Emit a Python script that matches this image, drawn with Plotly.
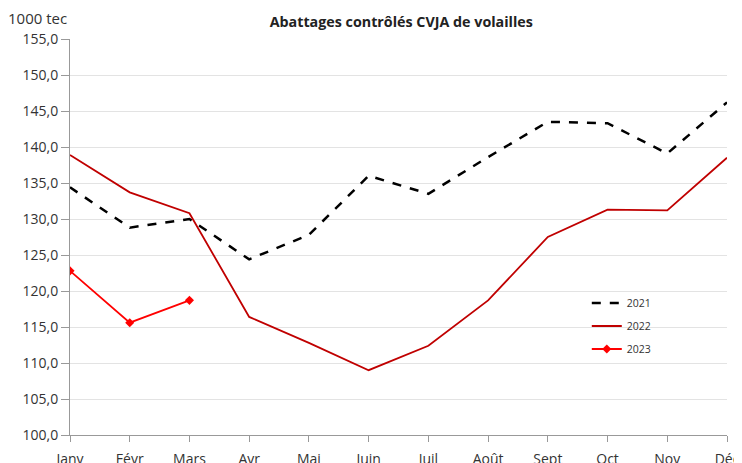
import plotly.graph_objects as go

months = ["Janv", "Févr", "Mars", "Avr", "Mai", "Juin", "Juil", "Août", "Sept", "Oct", "Nov", "Déc"]
y2021 = [134.4, 128.8, 130.0, 124.4, 127.8, 136.0, 133.5, 138.6, 143.5, 143.3, 139.1, 146.2]
y2022 = [138.9, 133.7, 130.8, 116.4, 112.8, 109.0, 112.4, 118.7, 127.5, 131.3, 131.2, 138.5]
y2023 = [122.8, 115.6, 118.7]
yticks = [100, 105, 110, 115, 120, 125, 130, 135, 140, 145, 150, 155]

FONT = "Open Sans"

fig = go.Figure()
fig.add_trace(go.Scatter(x=list(range(len(months))), y=y2021, name="2021", mode="lines",
                         legendgroup="a",
                         line=dict(color="black", width=2.5, dash="dash")))
fig.add_trace(go.Scatter(x=list(range(len(months))), y=y2022, name="2022", mode="lines",
                         legendgroup="b",
                         line=dict(color="#C00000", width=1.8)))
fig.add_trace(go.Scatter(x=list(range(len(y2023))), y=y2023, name="2023", mode="lines+markers",
                         legendgroup="c",
                         line=dict(color="#FF0000", width=1.8),
                         marker=dict(symbol="diamond", size=7, color="#FF0000")))

fig.update_layout(
    width=742, height=463,
    margin=dict(l=62, r=23, t=31, b=36, autoexpand=False),
    plot_bgcolor="white", paper_bgcolor="white",
    font=dict(family=FONT, color="#333333", size=14),
    title=dict(text="<b>Abattages contrôlés CVJA de volailles</b>", x=0.53, xanchor="center",
               y=0.97, yanchor="middle", font=dict(size=14.3, color="#222222", family=FONT)),
    legend=dict(x=0.7866, y=0.37, xanchor="left", yanchor="top", bgcolor="rgba(0,0,0,0)",
                font=dict(size=10.5, color="#333333"), tracegroupgap=4, itemwidth=30,
                traceorder="grouped"),
    showlegend=True,
)
fig.update_xaxes(
    range=[0, 11], tickmode="array", tickvals=list(range(len(months))), ticktext=months,
    showgrid=False, showline=True, linecolor="#999999", linewidth=1, automargin=False,
    ticks="outside", ticklen=6, tickcolor="#999999", tickfont=dict(size=14, color="#333333"),
    ticklabelstandoff=5, zeroline=False,
)
fig.update_yaxes(
    range=[100, 155], tickmode="array", tickvals=yticks,
    ticktext=[f"{v:.1f}".replace(".", ",") for v in yticks],
    showgrid=True, gridcolor="#E3E3E3", gridwidth=1, automargin=False,
    showline=True, linecolor="#999999", linewidth=1,
    ticks="outside", ticklen=8, tickcolor="#999999", tickfont=dict(size=14, color="#333333"),
    zeroline=False,
)
fig.add_annotation(text="1000 tec", xref="paper", yref="paper", x=-0.0974, y=1.053,
                   xanchor="left", yanchor="middle", showarrow=False,
                   font=dict(size=15, color="#333333", family=FONT))

fig.write_html("out.html")
